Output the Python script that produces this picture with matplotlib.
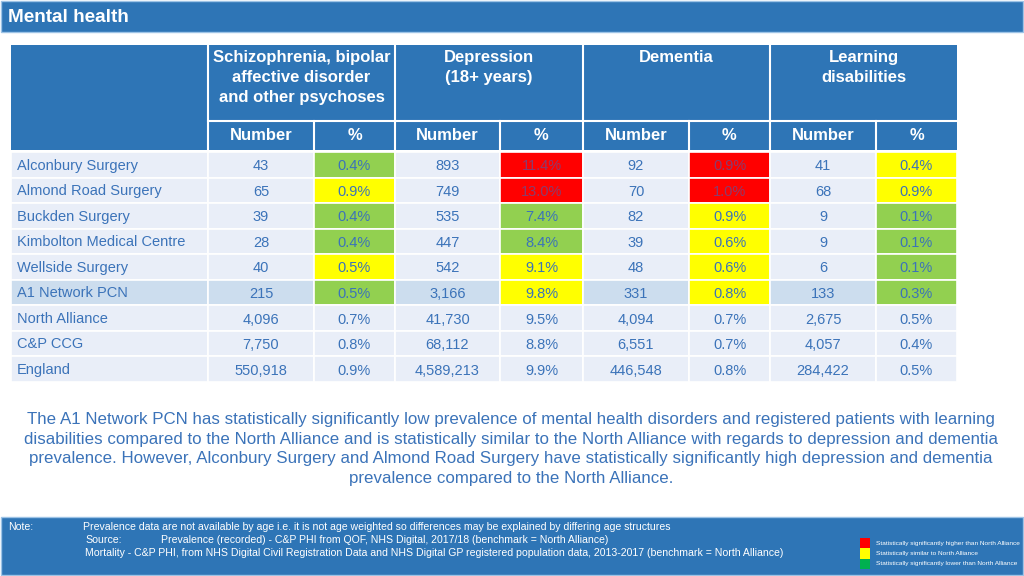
import matplotlib
matplotlib.use("Agg")
import matplotlib.pyplot as plt
from matplotlib.patches import Rectangle

plt.rcParams['font.family'] = ['Liberation Sans', 'DejaVu Sans']

# ---------------- data ----------------
rows = ["Alconbury Surgery", "Almond Road Surgery", "Buckden Surgery",
        "Kimbolton Medical Centre", "Wellside Surgery", "A1 Network PCN",
        "North Alliance", "C&P CCG", "England"]
conditions = ["Schizophrenia, bipolar\naffective disorder\nand other psychoses",
              "Depression\n(18+ years)", "Dementia", "Learning\ndisabilities"]

smi_number = [43, 65, 39, 28, 40, 215, 4096, 7750, 550918]
smi_pct = [0.4, 0.9, 0.4, 0.4, 0.5, 0.5, 0.7, 0.8, 0.9]
smi_rag = ["G", "Y", "G", "G", "Y", "G", None, None, None]

dep_number = [893, 749, 535, 447, 542, 3166, 41730, 68112, 4589213]
dep_pct = [11.4, 13.0, 7.4, 8.4, 9.1, 9.8, 9.5, 8.8, 9.9]
dep_rag = ["R", "R", "G", "G", "Y", "Y", None, None, None]

dem_number = [92, 70, 82, 39, 48, 331, 4094, 6551, 446548]
dem_pct = [0.9, 1.0, 0.9, 0.6, 0.6, 0.8, 0.7, 0.7, 0.8]
dem_rag = ["R", "R", "Y", "Y", "Y", "Y", None, None, None]

ld_number = [41, 68, 9, 9, 6, 133, 2675, 4057, 284422]
ld_pct = [0.4, 0.9, 0.1, 0.1, 0.1, 0.3, 0.5, 0.4, 0.5]
ld_rag = ["Y", "Y", "G", "G", "G", "G", None, None, None]

sub_headers = ["Number", "%"]
legend_labels = ["Statistically significantly higher than North Alliance",
                 "Statistically similar to North Alliance",
                 "Statistically significantly lower than North Alliance"]

summary = ("The A1 Network PCN has statistically significantly low prevalence of mental health disorders and registered patients with learning\n"
           "disabilities compared to the North Alliance and is statistically similar to the North Alliance with regards to depression and dementia\n"
           "prevalence. However, Alconbury Surgery and Almond Road Surgery have statistically significantly high depression and dementia\n"
           "prevalence compared to the North Alliance.")

# ---------------- style ----------------
BLUE = "#2E75B6"
TXT = "#3B73B9"
CELL = "#E9EEF8"
HL = "#CCDDEE"
RAG = {"R": "#FF0000", "Y": "#FFFF00", "G": "#92D050"}
LEG = {"R": "#FF0000", "Y": "#FFFF00", "G": "#00B050"}

fig = plt.figure(figsize=(10.24, 5.76), dpi=100)
ax = fig.add_axes([0, 0, 1, 1])
ax.set_xlim(0, 1024)
ax.set_ylim(576, 0)
ax.axis("off")

# title bar
ax.add_patch(Rectangle((1, 1), 1022, 31, facecolor=BLUE, edgecolor="#9DC3E6", lw=1))
ax.text(8, 17, "Mental health", color="white", fontsize=13.6, fontweight="bold", va="center", ha="left")

# table geometry
col_x = [11, 208, 314, 395, 500, 583, 689, 770, 876, 957]
h1_top, h1_bot, h2_bot = 45, 121, 150
row_top = 152
row_h = (382 - 152) / len(rows)

# header backgrounds
ax.add_patch(Rectangle((col_x[0], h1_top), col_x[-1] - col_x[0], h2_bot - h1_top, facecolor=BLUE, edgecolor="none"))
for k, cond in enumerate(conditions):
    x0, x1 = col_x[1 + 2 * k], col_x[3 + 2 * k]
    ax.text((x0 + x1) / 2, 50, cond, color="white", fontsize=12, fontweight="bold",
            ha="center", va="top", linespacing=1.43)
    ax.plot([x0, x0], [h1_top, h2_bot], color="white", lw=1.5)
    ax.plot([x0, x1], [h1_bot, h1_bot], color="white", lw=1.5)
    for j, sh in enumerate(sub_headers):
        cx0, cx1 = col_x[1 + 2 * k + j], col_x[2 + 2 * k + j]
        ax.text((cx0 + cx1) / 2, (h1_bot + h2_bot) / 2, sh, color="white", fontsize=12,
                fontweight="bold", ha="center", va="center")
        if j == 1:
            ax.plot([cx0, cx0], [h1_bot, h2_bot], color="white", lw=1.5)

numbers = [smi_number, dep_number, dem_number, ld_number]
pcts = [smi_pct, dep_pct, dem_pct, ld_pct]
rags = [smi_rag, dep_rag, dem_rag, ld_rag]

for i, name in enumerate(rows):
    y0 = row_top + i * row_h
    yc = y0 + row_h / 2
    bg = HL if name == "A1 Network PCN" else CELL
    ax.add_patch(Rectangle((col_x[0], y0), col_x[1] - col_x[0], row_h, facecolor=bg,
                           edgecolor="white", lw=1.2))
    ax.text(17, yc + 0.8, name, color=TXT, fontsize=10.5, ha="left", va="center")
    for k in range(4):
        cx0, cx1 = col_x[1 + 2 * k], col_x[2 + 2 * k]
        ax.add_patch(Rectangle((cx0, y0), cx1 - cx0, row_h, facecolor=bg, edgecolor="white", lw=1.2))
        ax.text((cx0 + cx1) / 2, yc + 1.5, f"{numbers[k][i]:,}", color=TXT, fontsize=10.5,
                ha="center", va="center")
        px0, px1 = col_x[2 + 2 * k], col_x[3 + 2 * k]
        r = rags[k][i]
        fc = RAG[r] if r else bg
        tc = "#8A3C6E" if r == "R" else TXT
        ax.add_patch(Rectangle((px0, y0), px1 - px0, row_h, facecolor=fc, edgecolor="white", lw=1.2))
        ax.text((px0 + px1) / 2, yc + 1.5, f"{pcts[k][i]:.1f}%", color=tc, fontsize=10.5,
                ha="center", va="center")

# summary paragraph
ax.text(511, 449, summary, color=TXT, fontsize=12.2, ha="center", va="center", linespacing=1.4)

# footer
ax.add_patch(Rectangle((1, 517), 1022, 58, facecolor=BLUE, edgecolor="#9DC3E6", lw=1))
fs = 7.6
ax.text(8, 527, "Note:", color="white", fontsize=fs, ha="left", va="center")
ax.text(83, 527, "Prevalence data are not available by age i.e. it is not age weighted so differences may be explained by differing age structures",
        color="white", fontsize=fs, ha="left", va="center")
ax.text(85, 540, "Source:", color="white", fontsize=fs, ha="left", va="center")
ax.text(161, 540, "Prevalence (recorded) - C&P PHI from QOF, NHS Digital, 2017/18 (benchmark = North Alliance)",
        color="white", fontsize=fs, ha="left", va="center")
ax.text(85, 553, "Mortality - C&P PHI, from NHS Digital Civil Registration Data and NHS Digital GP registered population data, 2013-2017 (benchmark = North Alliance)",
        color="white", fontsize=fs, ha="left", va="center")

for j, (code, lab) in enumerate(zip(["R", "Y", "G"], legend_labels)):
    ly = 538 + j * 10.3
    ax.add_patch(Rectangle((860, ly), 10, 10.3, facecolor=LEG[code], edgecolor="none"))
    ax.text(876, ly + 5.2, lab, color="white", fontsize=4.65, ha="left", va="center")

fig.savefig("out.png", dpi=100)
